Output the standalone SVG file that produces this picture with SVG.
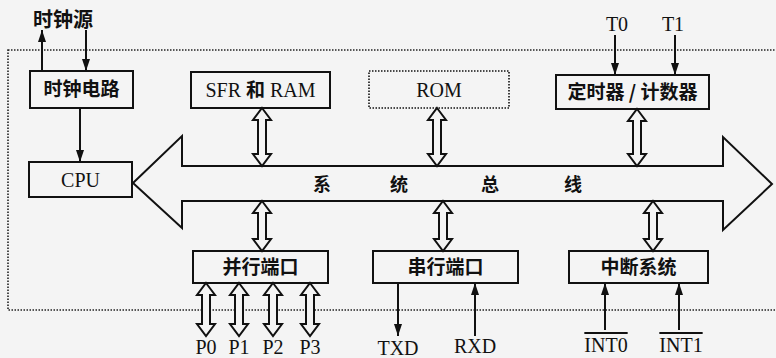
<svg xmlns="http://www.w3.org/2000/svg" width="776" height="358" viewBox="0 0 776 358">
<style>
.box{fill:#f4f4f4;stroke:#111;stroke-width:2}
.dot{fill:#f4f4f4;stroke:#111;stroke-width:1.6;stroke-dasharray:1.5 1.5}
.frame{fill:none;stroke:#222;stroke-width:1.6;stroke-dasharray:1.5 1.5}
.hol{fill:#f4f4f4;stroke:#111;stroke-width:2;stroke-linejoin:miter}
.ln{fill:none;stroke:#111;stroke-width:2}
.cn{font-family:"Noto Sans CJK SC","Noto Sans CJK JP",sans-serif;font-weight:bold;font-size:19px;fill:#111;text-anchor:middle}
.lt{font-family:"Liberation Serif","Noto Sans CJK SC",serif;font-size:20px;fill:#111;text-anchor:middle}
</style>
<defs>
<marker id="ah" markerUnits="userSpaceOnUse" markerWidth="12" markerHeight="8" refX="12" refY="4" orient="auto">
<path d="M0,0 L12,4 L0,8 Z" fill="#111"/>
</marker>
</defs>
<rect x="0" y="0" width="776" height="358" fill="#f4f4f4"/>
<rect class="frame" x="8" y="50" width="780" height="260"/>

<g id="bus">
<path class="hol" d="M133,183 L182,136 L182,166 L723,166 L723,137 L772,184 L723,230 L723,201 L182,201 L182,228 Z"/>
<text class="cn" x="322" y="191" style="font-size:18px">系</text>
<text class="cn" x="399" y="191" style="font-size:18px">统</text>
<text class="cn" x="490" y="191" style="font-size:18px">总</text>
<text class="cn" x="573" y="191" style="font-size:18px">线</text>
</g>

<g id="clock">
<rect class="box" x="30" y="71" width="103" height="37"/>
<text class="cn" x="81.5" y="96">时钟电路</text>
</g>
<g id="sfr">
<rect class="box" x="191" y="72" width="139" height="36"/>
<text class="lt" x="260.5" y="97">SFR <tspan style="font-family:'Noto Sans CJK SC',sans-serif;font-weight:bold;font-size:19px">和</tspan> RAM</text>
</g>
<g id="rom">
<rect class="dot" x="369" y="71" width="140" height="37"/>
<text class="lt" x="439" y="97">ROM</text>
</g>
<g id="timer">
<rect class="box" x="556" y="75" width="153" height="34"/>
<text class="cn" x="632.5" y="99">定时器 / 计数器</text>
</g>
<g id="cpu">
<rect class="box" x="29" y="162" width="103" height="35"/>
<text class="lt" x="80.5" y="187">CPU</text>
</g>
<g id="parallel">
<rect class="box" x="193" y="251" width="135" height="32"/>
<text class="cn" x="260.5" y="274">并行端口</text>
</g>
<g id="serial">
<rect class="box" x="373" y="251" width="145" height="32"/>
<text class="cn" x="445.5" y="274">串行端口</text>
</g>
<g id="interrupt">
<rect class="box" x="569" y="251" width="139" height="32"/>
<text class="cn" x="638.5" y="274">中断系统</text>
</g>

<g id="labels">
<text class="cn" x="63" y="27" style="font-size:20px">时钟源</text>
<text class="lt" x="617" y="31">T0</text>
<text class="lt" x="673" y="31">T1</text>
<text class="lt" x="206" y="354">P0</text>
<text class="lt" x="239" y="354">P1</text>
<text class="lt" x="273" y="354">P2</text>
<text class="lt" x="310" y="354">P3</text>
<text class="lt" x="398" y="355">TXD</text>
<text class="lt" x="475" y="353">RXD</text>
<text class="lt" x="606" y="352" style="text-decoration:overline">INT0</text>
<text class="lt" x="681" y="352" style="text-decoration:overline">INT1</text>
</g>

<g id="connectors">
<line class="ln" x1="42" y1="71" x2="42" y2="30" marker-end="url(#ah)"/>
<line class="ln" x1="86" y1="30" x2="86" y2="71" marker-end="url(#ah)"/>
<line class="ln" x1="80" y1="108" x2="80" y2="162" marker-end="url(#ah)"/>
<line class="ln" x1="615" y1="35" x2="615" y2="75" marker-end="url(#ah)"/>
<line class="ln" x1="675" y1="35" x2="675" y2="75" marker-end="url(#ah)"/>
<line class="ln" x1="398" y1="283" x2="398" y2="336" marker-end="url(#ah)"/>
<line class="ln" x1="475" y1="336" x2="475" y2="283" marker-end="url(#ah)"/>
<line class="ln" x1="605" y1="330" x2="605" y2="283" marker-end="url(#ah)"/>
<line class="ln" x1="679" y1="330" x2="679" y2="283" marker-end="url(#ah)"/>
<path class="hol" d="M262,108 L271,120 L266,120 L266,154 L271,154 L262,166 L253,154 L258,154 L258,120 L253,120 Z"/>
<path class="hol" d="M437,108 L446,120 L441,120 L441,154 L446,154 L437,166 L428,154 L433,154 L433,120 L428,120 Z"/>
<path class="hol" d="M637,109 L646,121 L641,121 L641,154 L646,154 L637,166 L628,154 L633,154 L633,121 L628,121 Z"/>
<path class="hol" d="M262,201 L271,213 L266,213 L266,239 L271,239 L262,251 L253,239 L258,239 L258,213 L253,213 Z"/>
<path class="hol" d="M443,201 L452,213 L447,213 L447,239 L452,239 L443,251 L434,239 L439,239 L439,213 L434,213 Z"/>
<path class="hol" d="M653,201 L662,213 L657,213 L657,239 L662,239 L653,251 L644,239 L649,239 L649,213 L644,213 Z"/>
<path class="hol" d="M206,283 L215,295 L210,295 L210,324 L215,324 L206,336 L197,324 L202,324 L202,295 L197,295 Z"/>
<path class="hol" d="M239,283 L248,295 L243,295 L243,324 L248,324 L239,336 L230,324 L235,324 L235,295 L230,295 Z"/>
<path class="hol" d="M273,283 L282,295 L277,295 L277,324 L282,324 L273,336 L264,324 L269,324 L269,295 L264,295 Z"/>
<path class="hol" d="M310,283 L319,295 L314,295 L314,324 L319,324 L310,336 L301,324 L306,324 L306,295 L301,295 Z"/>
</g>
</svg>
